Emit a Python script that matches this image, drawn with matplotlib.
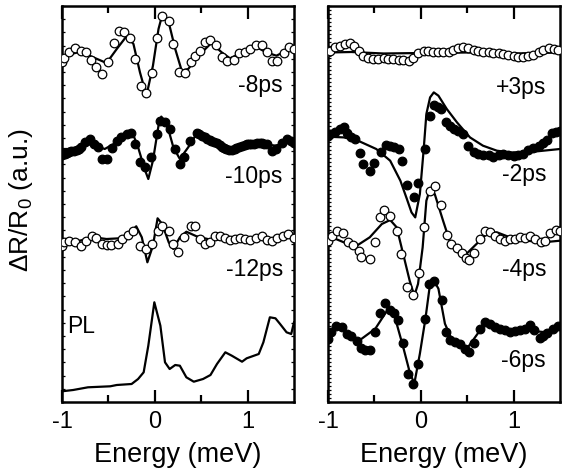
import matplotlib
matplotlib.use("Agg")
import matplotlib.pyplot as plt
import numpy as np
from matplotlib.ticker import MultipleLocator, FixedLocator

plt.rcParams['font.family'] = ['Liberation Sans', 'DejaVu Sans']
plt.rcParams['axes.unicode_minus'] = False
plt.rcParams['mathtext.fontset'] = 'custom'
plt.rcParams['mathtext.rm'] = 'Liberation Sans'
plt.rcParams['mathtext.it'] = 'Liberation Sans'

# ---------------- Left panel data (energy in meV, signal in a.u.) ----------------
off_m8 = 348
E_m8 = [-1.0, -0.98, -0.92, -0.86, -0.80, -0.74, -0.69, -0.63, -0.57, -0.50, -0.44, -0.39, -0.33, -0.27, -0.21,
        -0.15, -0.09, -0.03, 0.02, 0.08, 0.15, 0.20, 0.26, 0.33, 0.39, 0.43, 0.49, 0.54, 0.60, 0.66, 0.72, 0.78,
        0.85, 0.91, 0.97, 1.03, 1.09, 1.15, 1.21, 1.26, 1.32, 1.39, 1.45, 1.50]
S_m8 = [-7.7, -4.3, 1.7, 6, 2.7, 1.7, -6, -13.3, -20, -7.7, 10.7, 23.3, 22.3, 15.7, -5,
        -32.3, -39, -19, 15.7, 38.3, 33.3, 10, -17.7, -19, -8.3, -2.3, 2.7, 11.7, 14.3, 9.3, -3.3, -6.7,
        -6, 1, 2.3, 5, 9.3, 9, 1.7, -6.7, -6.7, 1, 6.7, 5]
fE_m8 = [-1.0, -0.90, -0.80, -0.69, -0.52, -0.41, -0.30, -0.23, -0.16, -0.09, -0.02, 0.04, 0.08, 0.15, 0.22,
         0.29, 0.36, 0.47, 0.61, 0.72, 0.81, 0.95, 1.10, 1.20, 1.31, 1.42, 1.50]
fS_m8 = [-5, 0, 2.3, -2.3, -9, 5, 18.3, 10, -18.3, -41.7, -11.7, 25, 39, 31.7, 5,
         -16.7, -15, -1.7, 11, 1.7, -4.3, 1.7, 6.7, 1.7, -1.7, 3.3, 5]

off_m10 = 254.7
E_m10 = [-1.0, -0.97, -0.95, -0.92, -0.90, -0.87, -0.84, -0.82, -0.79, -0.75, -0.70, -0.65, -0.61, -0.57, -0.52,
         -0.46, -0.41, -0.36, -0.30, -0.26, -0.21, -0.16, -0.11, -0.04, 0.02, 0.06, 0.11, 0.16, 0.22, 0.27,
         0.32, 0.38, 0.45, 0.48, 0.51, 0.54, 0.56, 0.59, 0.61, 0.64, 0.67, 0.70, 0.72, 0.75, 0.77, 0.80,
         0.83, 0.86, 0.88, 0.91, 0.94, 0.97, 0.99, 1.02, 1.04, 1.07, 1.10, 1.13, 1.15, 1.18, 1.21, 1.26,
         1.31, 1.37, 1.42, 1.47, 1.50]
S_m10 = [-7.7, -7, -6, -5, -4, -3.5, -2.5, -1.7, 0, 5, 8.3, 3.3, 0, -11.7, -11.7,
         -0.7, 6.7, 10.7, 13.3, 14, 3.3, -15, -19.3, -9.3, 13.3, 26.7, 25, 18.3, -1.7, -16.7,
         -9.3, 6.7, 14, 13, 11.7, 10, 8.3, 7.5, 6.7, 5.3, 4, 2.3, 0.7, -0.5, -1.7, -2.2,
         -2.7, -1.7, -0.7, 0.5, 1.7, 2.5, 3.3, 3.3, 3.3, 3.7, 4, 4, 4, 3.7, 3.3, -3.3,
         -1.7, 4, 8.3, 6.7, 4]
fE_m10 = [-1.0, -0.93, -0.79, -0.68, -0.54, -0.41, -0.25, -0.18, -0.11, -0.07, -0.02, 0.04, 0.07, 0.13, 0.20,
          0.27, 0.36, 0.45, 0.58, 0.76, 0.94, 1.15, 1.30, 1.44, 1.50]
fS_m10 = [-1.7, -1.7, 0.7, 3.3, -1.7, 5, 16.7, 0, -21.7, -31.7, -13.3, 21.7, 30.7, 23.3, 0,
          -11.7, 0, 13.3, 6.7, -1.7, 0.7, 3.3, 1.7, 5, 6]

off_m12 = 158
E_m12 = [-1.0, -0.98, -0.92, -0.86, -0.80, -0.74, -0.68, -0.63, -0.57, -0.52, -0.47, -0.40, -0.35, -0.29, -0.23,
         -0.16, -0.09, -0.03, 0.03, 0.08, 0.15, 0.20, 0.25, 0.31, 0.39, 0.43, 0.49, 0.54, 0.60, 0.65, 0.70,
         0.76, 0.81, 0.86, 0.92, 0.97, 1.03, 1.09, 1.15, 1.21, 1.26, 1.32, 1.38, 1.44, 1.50]
S_m12 = [-1.7, 1.7, 3.3, 1.7, -1.7, 3.3, 7.7, 5.7, 0, -1, -1, 0, 5, 9, 13.3,
         -1.7, -5, 0, 13.3, 18.3, 13.3, 0, -8.3, 6.7, 17.7, 17.7, 5, 0, 1.7, 7.7, 8.3,
         5.7, 4.3, 5, 5.7, 5, 4.3, 5.7, 7.7, 4.3, 3.3, 5.7, 7.7, 10, 5.7]
fE_m12 = [-1.0, -0.81, -0.66, -0.52, -0.38, -0.27, -0.20, -0.14, -0.08, -0.02, 0.03, 0.08, 0.15, 0.20, 0.27,
          0.34, 0.45, 0.60, 0.81, 1.06, 1.28, 1.50]
fS_m12 = [1, 3.3, 6.7, 5, 5.7, 11, 17.7, 6.7, -18.3, -1.7, 25.7, 20, 1.7, -5, 6.7,
          12.3, 7.7, 4.3, 5, 4.3, 5.7, 7.7]

E_PL = [-1.0, -0.88, -0.72, -0.48, -0.41, -0.25, -0.18, -0.12, -0.07, -0.005, 0.06, 0.11, 0.16, 0.22, 0.27,
        0.34, 0.42, 0.52, 0.60, 0.67, 0.76, 0.83, 0.94, 0.99, 1.12, 1.17, 1.24, 1.30, 1.35, 1.42, 1.47, 1.50]
S_PL = [10.7, 12, 14.7, 15.7, 17, 18, 23, 29.7, 56.3, 99.7, 76.3, 39.7, 33, 37, 36.3,
        24.7, 20.3, 23, 27, 38, 49.7, 46.3, 40.3, 43.7, 48, 59.7, 84.7, 83.7, 78, 69.7, 68, 79.7]

# ---------------- Right panel data ----------------
off_p3 = 349
E_p3 = [-1.0, -0.98, -0.92, -0.87, -0.82, -0.76, -0.72, -0.67, -0.62, -0.57, -0.51, -0.46, -0.40, -0.35, -0.30,
        -0.24, -0.19, -0.13, -0.08, -0.03, 0.03, 0.08, 0.13, 0.19, 0.24, 0.30, 0.35, 0.40, 0.46, 0.51, 0.57,
        0.62, 0.67, 0.73, 0.78, 0.84, 0.89, 0.94, 1.00, 1.05, 1.10, 1.16, 1.21, 1.27, 1.32, 1.38, 1.43, 1.48]
S_p3 = [0.7, 2.3, 5.7, 7.3, 9, 10, 7.3, 2.3, -2.7, -5.3, -6, -6, -5.3, -6, -6,
        -6.7, -6.7, -7.7, -5.3, 0, 2.3, 2.3, 1.3, 1.3, 0.7, 1.3, 3.3, 4.7, 5.7, 4.7, 3.3,
        2.3, 1.3, 0.7, 0, 0, -1, -2, -3.3, -4.3, -4.3, -3.3, -2, 1.3, 3.3, 4.7, 4, 3.3]
fE_p3 = [-1.0, -0.75, -0.4, 0.0, 0.5, 1.0, 1.5]
fS_p3 = [0.5, 1, -0.5, 0, 0.5, -0.5, 0.5]

off_m2 = 266.3
E_m2 = [-1.0, -0.98, -0.92, -0.87, -0.83, -0.79, -0.75, -0.71, -0.66, -0.62, -0.55, -0.50, -0.43, -0.37, -0.33,
        -0.29, -0.24, -0.20, -0.15, -0.07, -0.03, 0.04, 0.10, 0.14, 0.19, 0.22, 0.27, 0.31, 0.36, 0.40, 0.46,
        0.51, 0.57, 0.62, 0.67, 0.73, 0.78, 0.84, 0.89, 0.94, 1.00, 1.05, 1.10, 1.16, 1.21, 1.27, 1.32,
        1.36, 1.41, 1.46, 1.50]
S_m2 = [0, 1.7, 3.3, 6.7, 9, 2.3, -1.7, -3.3, -17.7, -28.3, -35.7, -27.7, -16.7, -9, -10,
        -11.7, -13.3, -25.7, -49, -61.7, -47.7, -13.3, 20, 31, 29, 26.7, 13.3, 10, 6.7, 5, 1.7,
        -10, -16.7, -18.3, -19, -19, -21, -19, -18.3, -19, -20, -19, -18.3, -14.3, -12.3, -10, -7.7,
        -4.3, 2.3, 3.3, 5]
fE_m2 = [-1.0, -0.83, -0.66, -0.48, -0.33, -0.22, -0.15, -0.10, -0.06, -0.01, 0.03, 0.06, 0.10, 0.14, 0.19,
         0.28, 0.39, 0.53, 0.67, 0.82, 0.96, 1.14, 1.32, 1.50]
fS_m2 = [-1, -1.7, -5.7, -13.3, -25, -45, -63.3, -76.7, -81.7, -58.3, -15, 21.7, 38.3, 43.3, 40,
         26.7, 13.3, -1.7, -10, -15, -16.7, -16.7, -15, -13.3]

off_m4 = 163
E_m4 = [-1.0, -0.96, -0.90, -0.84, -0.78, -0.73, -0.67, -0.64, -0.55, -0.49, -0.44, -0.40, -0.33, -0.26, -0.21,
        -0.15, -0.08, -0.02, 0.03, 0.10, 0.15, 0.22, 0.28, 0.33, 0.39, 0.44, 0.49, 0.52, 0.57, 0.64, 0.69,
        0.75, 0.80, 0.85, 0.91, 0.96, 1.02, 1.07, 1.12, 1.18, 1.23, 1.29, 1.34, 1.39, 1.46, 1.50]
S_m4 = [-2.3, 3.3, 7.7, 5.7, -3.3, -5.7, -12.3, -18.3, -20, -3.3, 21.7, 29, 23.3, 8.3, -15,
        -47.7, -55.7, -33.7, 11.7, 48.3, 53.3, 34.3, 4.3, -5, -9, -14.3, -19, -21, -14.3, 0, 7.7,
        6.7, 3.3, 0, -1.7, 0, 0, 1.7, 1, 3.3, 0, -3.3, -1.7, 5.7, 9, 7.7]
fE_m4 = [-1.0, -0.83, -0.69, -0.55, -0.42, -0.33, -0.26, -0.19, -0.12, -0.07, -0.03, 0.02, 0.06, 0.10, 0.15,
         0.24, 0.31, 0.40, 0.49, 0.60, 0.71, 0.82, 0.96, 1.14, 1.32, 1.50]
fS_m4 = [3.3, -3.3, -6.7, 1.7, 15, 19, 11.7, -15, -41.7, -56.7, -45, -8.3, 38.3, 50, 45,
         18.3, -1.7, -13.3, -15, -5, 5, 6.7, 1.7, -1.7, -3.3, -1.7]

off_m6 = 70
E_m6 = [-1.0, -0.97, -0.91, -0.85, -0.80, -0.75, -0.69, -0.64, -0.60, -0.55, -0.49, -0.44, -0.39, -0.33, -0.29,
        -0.25, -0.19, -0.14, -0.08, -0.03, 0.05, 0.09, 0.14, 0.23, 0.27, 0.31, 0.37, 0.42, 0.48, 0.52, 0.57,
        0.64, 0.69, 0.75, 0.80, 0.85, 0.91, 0.96, 1.01, 1.07, 1.12, 1.18, 1.22, 1.28, 1.32, 1.36, 1.42, 1.48]
S_m6 = [-6.7, 0, 5.7, 5, -1.7, -4.3, -9, -15.7, -17.7, -17.7, 0, 19, 29, 22.3, 19,
        11.7, -11, -41.7, -52.3, -31.7, 13.3, 48.3, 51, 32.3, 0, -8.3, -10, -12.3, -16.7, -20, -11,
        3.3, 10, 8.3, 5, 3.3, 1.7, 0, 1, 2.3, 3.3, 6.7, 1.7, -5.7, -4.3, -1, 3.3, 5.7]
fE_m6 = [-1.0, -0.92, -0.80, -0.66, -0.49, -0.35, -0.28, -0.19, -0.12, -0.07, -0.01, 0.05, 0.10, 0.14, 0.19,
         0.26, 0.33, 0.46, 0.51, 0.60, 0.69, 0.82, 0.96, 1.14, 1.32, 1.50]
fS_m6 = [-1.7, 5, 0, -8.3, 3.3, 23.3, 15, -15, -40, -51.7, -21.7, 13.3, 48.3, 51.7, 43.3,
         8.3, -6.7, -13.3, -15, -3.3, 8.3, 3.3, 0, 1.7, 0, 3.3]

labels_left = ["-8ps", "-10ps", "-12ps"]
label_y_left = [317, 226, 133]
labels_right = ["+3ps", "-2ps", "-4ps", "-6ps"]
label_y_right = [315, 228, 133, 42]

# ---------------- Figure ----------------
W, H = 562, 477
fig = plt.figure(figsize=(W / 100, H / 100), dpi=100)
axL = fig.add_axes([62 / W, 74 / H, 232 / W, 396 / H])
axR = fig.add_axes([328 / W, 74 / H, 232 / W, 396 / H])

open_kw = dict(marker='o', ms=6.2, mfc='white', mec='black', mew=0.9, ls='none', zorder=3)
fill_kw = dict(marker='o', ms=6.2, mfc='black', mec='black', mew=0.9, ls='none', zorder=3)
line_kw = dict(color='black', lw=1.6, zorder=2)

def trace(ax, E, S, fE, fS, off, kw):
    ax.plot(fE, np.asarray(fS) + off, **line_kw)
    ax.plot(E, np.asarray(S) + off, **kw)

trace(axL, E_m8, S_m8, fE_m8, fS_m8, off_m8, open_kw)
trace(axL, E_m10, S_m10, fE_m10, fS_m10, off_m10, fill_kw)
trace(axL, E_m12, S_m12, fE_m12, fS_m12, off_m12, open_kw)
axL.plot(E_PL, S_PL, **line_kw)

trace(axR, E_p3, S_p3, fE_p3, fS_p3, off_p3, open_kw)
trace(axR, E_m2, S_m2, fE_m2, fS_m2, off_m2, fill_kw)
trace(axR, E_m4, S_m4, fE_m4, fS_m4, off_m4, open_kw)
trace(axR, E_m6, S_m6, fE_m6, fS_m6, off_m6, fill_kw)

for t, yy in zip(labels_left, label_y_left):
    axL.text(1.38, yy, t, ha='right', va='center', fontsize=16.5)
axL.text(-0.94, 76, "PL", ha='left', va='center', fontsize=16.5)
for t, yy in zip(labels_right, label_y_right):
    axR.text(1.35, yy, t, ha='right', va='center', fontsize=16.5)

for ax, ystep in ((axL, 13.2), (axR, 4.0)):
    ax.set_xlim(-1, 1.5)
    ax.set_ylim(0, 396)
    ax.set_xticks([-1, 0, 1])
    ax.set_xticklabels(["-1", "0", "1"])
    ax.xaxis.set_minor_locator(FixedLocator([-0.5, 0.5]))
    ax.yaxis.set_major_locator(FixedLocator([]))
    ax.yaxis.set_minor_locator(MultipleLocator(ystep))
    ax.tick_params(axis='x', which='major', direction='in', length=9, width=1.6,
                   top=True, bottom=True, labelsize=17, pad=6)
    ax.tick_params(axis='x', which='minor', direction='in', length=5, width=1.6, top=True, bottom=True)
    ax.tick_params(axis='y', which='minor', direction='in', length=2.2, width=0.9,
                   left=True, right=(ax is axL))
    ax.tick_params(axis='y', which='major', left=False, labelleft=False)
    for sp in ax.spines.values():
        sp.set_linewidth(1.8)
    ax.set_xlabel("Energy (meV)", fontsize=19.5, labelpad=6)

fig.text(21 / W, 1 - 200 / H, r"$\Delta$R/R$_0$ (a.u.)", rotation=90, ha='center', va='center', fontsize=19)

fig.savefig("out.png", dpi=100)
